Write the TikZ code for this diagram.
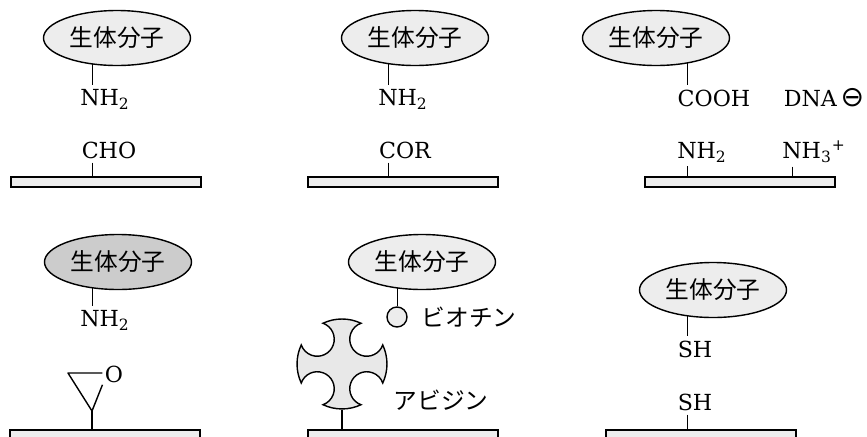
\documentclass[tikz,border=0pt]{standalone}
\usepackage{fontspec}
\setmainfont{DejaVu Serif}
\newfontfamily\jpfont{Noto Sans CJK JP}
\newfontfamily\symfont{DejaVu Sans}
\usetikzlibrary{shapes.geometric,positioning,backgrounds}

\begin{document}
\begin{tikzpicture}[x=0.2mm,y=-0.2mm,line width=0.8pt,
  mol/.style={ellipse,draw,fill=black!7,minimum width=29.4mm,minimum height=11mm,inner sep=0pt,font=\jpfont\fontsize{13.5}{15}\selectfont},
  chem/.style={inner sep=2pt,anchor=base,font=\fontsize{12.6}{15}\selectfont},
  jp/.style={inner sep=1pt,font=\jpfont\fontsize{13.5}{15}\selectfont},
  plate/.style={rectangle,draw,fill=black!7,minimum width=38mm,minimum height=2mm,inner sep=0pt}]

\useasboundingbox (0,0) rectangle (867,436);

% aldehyde surface
\node[mol] (eA) at (117,38) {生体分子};
\node[chem] (nA) at (105,105) {NH\textsubscript{2}};
\node[chem] (cA) at (109,158) {CHO};
\node[plate] (bA) at (106,182) {};
\coordinate (sA) at (92,0);

% active ester surface
\node[mol] (eB) at (415,38) {生体分子};
\node[chem] (nB) at (403,105) {NH\textsubscript{2}};
\node[chem] (cB) at (405,158) {COR};
\node[plate] (bB) at (403,182) {};
\coordinate (sB) at (388,0);

% amino surface
\node[mol] (eC) at (656,38) {生体分子};
\node[chem] (nC) at (714,106) {COOH};
\node[chem] (dC) at (824,106) {DNA\,{\symfont\fontsize{16}{16}\selectfont ⊖}};
\node[chem] (aC) at (702,158) {NH\textsubscript{2}};
\node[chem] (qC) at (814,158) {NH\textsubscript{3}\textsuperscript{+}};
\node[plate] (bC) at (740,182) {};
\coordinate (sC) at (687,0);
\coordinate (tC) at (792,0);

% epoxy surface
\node[mol,fill=black!20] (eD) at (118,262) {生体分子};
\node[chem] (nD) at (105,326) {NH\textsubscript{2}};
\node[chem,inner sep=1pt] (oD) at (114,382) {O};
\coordinate (lD) at (68,373);
\coordinate (pD) at (92,411);
\node[plate] (bD) at (105,435) {};
\coordinate (sD) at (92,0);
\draw[line join=round] (oD.west |- lD) -- (lD) -- (pD) -- (oD.south west);
\draw (pD) -- (bD.north -| pD);

% biotin / avidin
\node[mol] (eE) at (422,262) {生体分子};
\node[circle,draw,fill=black!7,minimum size=4mm,inner sep=0pt] (btE) at (397,317) {};
\node[jp,right=2.3mm of btE] (btlE) {ビオチン};
\node[circle,minimum size=18mm,inner sep=0pt] (avE) at (342,364) {};
\filldraw[fill=black!9] ([shift={(65:9mm)}]avE.center)
  arc[start angle=65,end angle=115,radius=9mm]
  arc[start angle=70.3,end angle=-160.3,radius=3.4mm]
  arc[start angle=155,end angle=205,radius=9mm]
  arc[start angle=160.3,end angle=-70.3,radius=3.4mm]
  arc[start angle=245,end angle=295,radius=9mm]
  arc[start angle=250.3,end angle=19.7,radius=3.4mm]
  arc[start angle=335,end angle=385,radius=9mm]
  arc[start angle=340.3,end angle=109.7,radius=3.4mm] -- cycle;
\node[jp] (avlE) at (441,400) {アビジン};
\node[plate] (bE) at (403,435) {};
\draw (avE.south) -- (bE.north -| avE.south);

% thiol surface
\node[mol] (eF) at (713,290) {生体分子};
\node[chem] (sF) at (695,357) {SH};
\node[chem] (hF) at (695,410) {SH};
\node[plate] (bF) at (701,435) {};
\coordinate (xF) at (687,0);

\begin{scope}[on background layer]
  \draw (eA.center -| sA) -- (nA.north -| sA);
  \draw (cA.south -| sA) -- (bA.north -| sA);
  \draw (eB.center -| sB) -- (nB.north -| sB);
  \draw (cB.south -| sB) -- (bB.north -| sB);
  \draw (eC.center -| sC) -- (nC.north -| sC);
  \draw (aC.south -| sC) -- (bC.north -| sC);
  \draw (qC.south -| tC) -- (bC.north -| tC);
  \draw (eD.center -| sD) -- (nD.north -| sD);
  \draw (eE.center -| btE) -- (btE.north);
  \draw (eF.center -| xF) -- (sF.north -| xF);
  \draw (hF.south -| xF) -- (bF.north -| xF);
\end{scope}

\end{tikzpicture}
\end{document}
